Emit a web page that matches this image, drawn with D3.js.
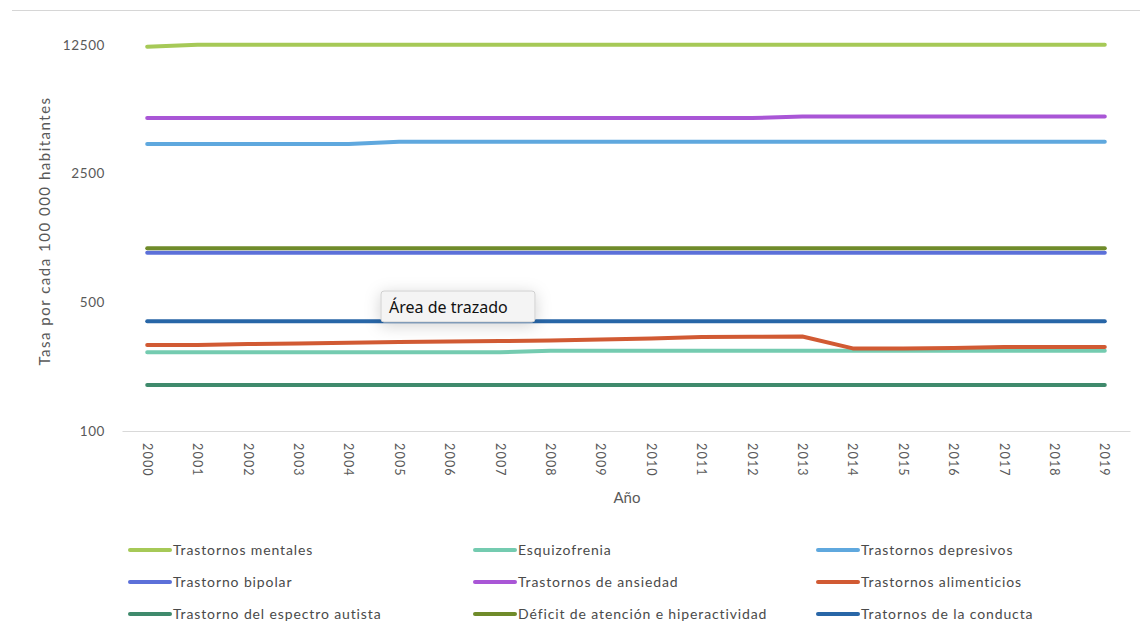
<!DOCTYPE html>
<html lang="es">
<head>
<meta charset="utf-8">
<script src="https://cdn.jsdelivr.net/npm/d3@7"></script>
<style>
  html, body { margin: 0; padding: 0; background: #fff; }
  svg { display: block; font-family: Lato, "Open Sans", sans-serif; }
</style>
</head>
<body>
<svg id="chart" width="1140" height="625"></svg>
<script>
// Años del eje horizontal
const years = ["2000","2001","2002","2003","2004","2005","2006","2007","2008","2009",
               "2010","2011","2012","2013","2014","2015","2016","2017","2018","2019"];

// Marcas del eje logarítmico (base 5)
const yTicks = [100, 500, 2500, 12500];

// Tasa por cada 100 000 habitantes, por trastorno
const trastornosMentales  = [12240,12550,12550,12550,12550,12550,12550,12550,12550,12550,12550,12550,12550,12550,12550,12550,12550,12550,12550,12550];
const esquizofrenia       = [268,268,268,268,268,268,268,268,273,273,273,273,273,273,273,273,273,273,273,273];
const trastornosDepresivos= [3620,3620,3620,3620,3620,3725,3725,3725,3725,3725,3725,3725,3725,3725,3725,3725,3725,3725,3725,3725];
const trastornoBipolar    = [929,929,929,929,929,929,929,929,929,929,929,929,929,929,929,929,929,929,929,929];
const trastornosAnsiedad  = [5015,5015,5015,5015,5015,5015,5015,5015,5015,5015,5015,5015,5015,5110,5110,5110,5110,5110,5110,5110];
const trastornosAlimentos = [293,293,297,299,302,304,306,308,310,314,318,324,325,326,281,281,282,286,286,286];
const espectroAutista     = [178,178,178,178,178,178,178,178,178,178,178,178,178,178,178,178,178,178,178,178];
const deficitAtencion     = [983,983,983,983,983,983,983,983,983,983,983,983,983,983,983,983,983,983,983,983];
const trastornosConducta  = [395,395,395,395,395,395,395,395,395,395,395,395,395,395,395,395,395,395,395,395];

// Nombres y colores de las series, en el orden de la leyenda
const seriesNames = [
  "Trastornos mentales", "Esquizofrenia", "Trastornos depresivos",
  "Trastorno bipolar", "Trastornos de ansiedad", "Trastornos alimenticios",
  "Trastorno del espectro autista", "Déficit de atención e hiperactividad", "Tratornos de la conducta"
];
const seriesColors = [
  "#a6c957", "#74cbb0", "#5fa8de",
  "#5c70d9", "#a956d6", "#d15a33",
  "#3f8a6c", "#6f8b2a", "#2866a7"
];
const seriesValues = [
  trastornosMentales, esquizofrenia, trastornosDepresivos,
  trastornoBipolar, trastornosAnsiedad, trastornosAlimentos,
  espectroAutista, deficitAtencion, trastornosConducta
];

const svg = d3.select("#chart");
const textColor = "#595959";

// Línea divisoria superior
svg.append("line")
  .attr("x1", 12).attr("x2", 1140).attr("y1", 10.5).attr("y2", 10.5)
  .attr("stroke", "#d6d6d6").attr("stroke-width", 1);

const plot = { left: 122, right: 1130, top: 45, bottom: 431 };

const x = d3.scaleBand().domain(years).range([plot.left, plot.right]);
const xc = d => x(d) + x.bandwidth() / 2;

const y = d3.scaleLog().base(5).domain([100, 12500]).range([plot.bottom, plot.top]);

// Eje X
const xAxis = svg.append("g")
  .attr("transform", `translate(0,${plot.bottom})`)
  .call(d3.axisBottom(x).tickSize(0).tickPadding(0));
xAxis.select(".domain").attr("stroke", "#d9d9d9").attr("stroke-width", 1.2);
xAxis.selectAll(".tick text")
  .attr("transform", "translate(0,12) rotate(90)")
  .attr("dy", "0.35em")
  .attr("x", 0).attr("y", 0)
  .attr("text-anchor", "start")
  .attr("fill", textColor)
  .style("font-size", "12.5px")
  .style("letter-spacing", "1.2px")
  .style("font-family", "Lato, sans-serif");

// Eje Y (logarítmico)
const yAxis = svg.append("g")
  .attr("transform", `translate(${plot.left},0)`)
  .call(d3.axisLeft(y).tickValues(yTicks).tickFormat(d3.format("d")).tickSize(0).tickPadding(17));
yAxis.select(".domain").remove();
yAxis.selectAll(".tick text")
  .attr("fill", textColor)
  .style("font-size", "13.5px")
  .style("letter-spacing", "0.6px")
  .style("font-family", "Lato, sans-serif");

// Títulos de ejes
svg.append("text")
  .attr("transform", "translate(50,231) rotate(-90)")
  .attr("text-anchor", "middle")
  .attr("fill", textColor)
  .style("font-size", "15px")
  .style("letter-spacing", "1.5px")
  .text("Tasa por cada 100 000 habitantes");

svg.append("text")
  .attr("x", 627).attr("y", 503)
  .attr("text-anchor", "middle")
  .attr("fill", textColor)
  .style("font-size", "15px")
  .text("Año");

// Líneas de las series
const line = d3.line()
  .x((d, i) => xc(years[i]))
  .y(d => y(d));

svg.append("g").selectAll("path")
  .data(seriesValues)
  .join("path")
  .attr("d", line)
  .attr("fill", "none")
  .attr("stroke", (d, i) => seriesColors[i])
  .attr("stroke-width", 4)
  .attr("stroke-linecap", "round")
  .attr("stroke-linejoin", "round");

// Leyenda en tres columnas
const legendCols = [130, 475, 818];
const legendRows = [550, 582, 614];
const legend = svg.append("g").selectAll("g")
  .data(seriesNames)
  .join("g")
  .attr("transform", (d, i) => `translate(${legendCols[i % 3]},${legendRows[Math.floor(i / 3)]})`);
legend.append("line")
  .attr("x1", 0).attr("x2", 40).attr("y1", 0).attr("y2", 0)
  .attr("stroke", (d, i) => seriesColors[i])
  .attr("stroke-width", 4)
  .attr("stroke-linecap", "round");
legend.append("text")
  .attr("x", 43).attr("y", 0).attr("dy", "0.35em")
  .attr("fill", "#4a4a4a")
  .style("font-size", "14px")
  .style("letter-spacing", "0.88px")
  .text(d => d);

// Etiqueta emergente del área de trazado
const defs = svg.append("defs");
const f = defs.append("filter").attr("id", "sombra").attr("x", "-40%").attr("y", "-80%").attr("width", "180%").attr("height", "260%");
f.append("feDropShadow").attr("dx", 0).attr("dy", 3).attr("stdDeviation", 8).attr("flood-color", "#000").attr("flood-opacity", 0.18);

const tip = svg.append("g").attr("transform", "translate(381,291)");
tip.append("rect")
  .attr("width", 154).attr("height", 31).attr("rx", 3)
  .attr("fill", "#f4f4f4").attr("stroke", "#cfcfcf").attr("stroke-width", 1)
  .attr("filter", "url(#sombra)");
tip.append("text")
  .attr("x", 8).attr("y", 22)
  .attr("fill", "#111")
  .style("font-family", "'Noto Sans', 'Open Sans', sans-serif")
  .style("font-size", "16px")
  .text("Área de trazado");
</script>
</body>
</html>
